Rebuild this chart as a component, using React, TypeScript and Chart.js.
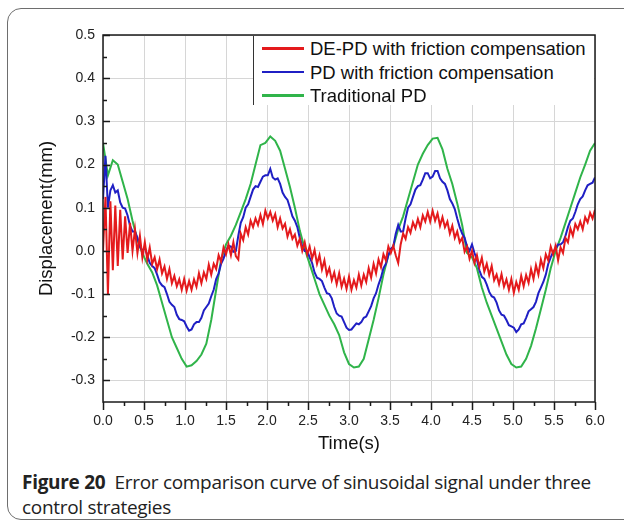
import React, { useEffect, useRef } from "react";
import { Chart, registerables } from "chart.js";

Chart.register(...registerables);

// ---- data ----
const seriesNames = [
  "DE-PD with friction compensation",
  "PD with friction compensation",
  "Traditional PD",
];
const seriesColors = ["#e41a1c", "#1f1fc4", "#30b44a"];

const FINE_STEP = 0.03; // s between samples of the DE-PD and PD traces
const COARSE_STEP = 0.06; // s between samples of the traditional PD trace

const dePdValues = [
  0.0, 0.125, -0.1, 0.115, -0.045, 0.105, -0.035, 0.095, -0.02, 0.08,
  -0.005, 0.065, 0.0, 0.05, -0.005, 0.035, -0.015, 0.02, -0.02, 0.008,
  -0.03, -0.015, -0.042, -0.02, -0.052, -0.036, -0.065, -0.042, -0.075, -0.058,
  -0.082, -0.066, -0.09, -0.065, -0.092, -0.07, -0.09, -0.066, -0.083, -0.052,
  -0.075, -0.05, -0.065, -0.032, -0.055, -0.03, -0.042, -0.01, -0.025, 0.008,
  -0.008, 0.015, -0.01, 0.02, -0.012, -0.02, 0.04, 0.025, 0.055, 0.038,
  0.07, 0.055, 0.075, 0.06, 0.083, 0.062, 0.093, 0.075, 0.09, 0.07,
  0.085, 0.055, 0.075, 0.052, 0.063, 0.033, 0.05, 0.028, 0.038, 0.012,
  0.028, 0.0, 0.02, -0.008, 0.01, -0.018, 0.002, -0.03, -0.01, -0.043,
  -0.022, -0.055, -0.04, -0.068, -0.05, -0.077, -0.052, -0.083, -0.064, -0.088,
  -0.06, -0.09, -0.068, -0.085, -0.055, -0.08, -0.055, -0.072, -0.04, -0.062,
  -0.03, -0.052, -0.02, -0.038, -0.008, -0.022, 0.01, -0.005, 0.012, -0.01,
  -0.028, 0.015, 0.04, 0.028, 0.055, 0.042, 0.066, 0.052, 0.074, 0.055,
  0.082, 0.068, 0.09, 0.068, 0.093, 0.07, 0.087, 0.058, 0.078, 0.055,
  0.068, 0.04, 0.058, 0.03, 0.045, 0.02, 0.03, -0.002, 0.01, -0.018,
  0.0, -0.028, -0.01, -0.037, -0.016, -0.048, -0.03, -0.056, -0.035, -0.068,
  -0.055, -0.077, -0.054, -0.083, -0.066, -0.09, -0.065, -0.097, -0.072, -0.09,
  -0.058, -0.082, -0.056, -0.074, -0.042, -0.065, -0.033, -0.055, -0.02, -0.04,
  -0.008, -0.022, 0.01, -0.008, 0.012, -0.022, 0.008, -0.005, 0.03, 0.02,
  0.052, 0.035, 0.062, 0.05, 0.068, 0.05, 0.078, 0.066, 0.088, 0.075,
  0.095,
];

const pdFrictionValues = [
  0.12, 0.22, 0.1, 0.14, 0.152, 0.135, 0.14, 0.112, 0.1, 0.098,
  0.082, 0.058, 0.045, 0.045, 0.03, 0.01, 0.0, 0.008, -0.01, -0.028,
  -0.035, -0.04, -0.055, -0.072, -0.08, -0.084, -0.1, -0.118, -0.125, -0.13,
  -0.148, -0.158, -0.16, -0.163, -0.175, -0.185, -0.182, -0.17, -0.165, -0.165,
  -0.155, -0.138, -0.13, -0.122, -0.105, -0.09, -0.065, -0.052, -0.03, -0.018,
  0.0, 0.012, 0.01, -0.002, 0.0, 0.035, 0.065, 0.078, 0.1, 0.108,
  0.125, 0.142, 0.15, 0.148, 0.16, 0.172, 0.175, 0.175, 0.19, 0.17,
  0.165, 0.168, 0.155, 0.135, 0.125, 0.118, 0.1, 0.08, 0.07, 0.055,
  0.03, 0.01, 0.0, 0.0, -0.015, -0.028, -0.05, -0.062, -0.065, -0.07,
  -0.085, -0.098, -0.1, -0.11, -0.13, -0.145, -0.15, -0.152, -0.165, -0.178,
  -0.183, -0.182, -0.175, -0.168, -0.17, -0.165, -0.155, -0.152, -0.14, -0.128,
  -0.11, -0.098, -0.078, -0.062, -0.04, -0.03, -0.01, 0.005, 0.01, 0.04,
  0.06, 0.045, 0.045, 0.075, 0.1, 0.108, 0.125, 0.142, 0.15, 0.152,
  0.165, 0.18, 0.18, 0.168, 0.172, 0.185, 0.185, 0.168, 0.16, 0.155,
  0.14, 0.12, 0.11, 0.097, 0.075, 0.055, 0.04, 0.03, 0.01, 0.0,
  0.015, -0.005, -0.02, -0.045, -0.06, -0.065, -0.078, -0.095, -0.105, -0.108,
  -0.12, -0.138, -0.148, -0.15, -0.16, -0.172, -0.175, -0.178, -0.188, -0.182,
  -0.17, -0.168, -0.155, -0.14, -0.135, -0.13, -0.118, -0.098, -0.085, -0.072,
  -0.055, -0.03, -0.015, -0.002, 0.005, 0.015, 0.015, 0.02, 0.035, 0.055,
  0.07, 0.075, 0.09, 0.108, 0.12, 0.126, 0.14, 0.152, 0.155, 0.158,
  0.17,
];

const traditionalValues = [
  0.25, 0.175, 0.21, 0.2, 0.16, 0.12, 0.07, 0.025, -0.005, -0.03,
  -0.05, -0.08, -0.12, -0.16, -0.2, -0.225, -0.25, -0.268, -0.265, -0.255,
  -0.24, -0.215, -0.16, -0.09, -0.02, 0.015, 0.035, 0.06, 0.09, 0.12,
  0.155, 0.2, 0.245, 0.25, 0.265, 0.255, 0.232, 0.19, 0.148, 0.1,
  0.047, 0.005, -0.03, -0.065, -0.1, -0.125, -0.15, -0.17, -0.195, -0.235,
  -0.262, -0.27, -0.268, -0.25, -0.205, -0.16, -0.11, -0.055, -0.01, 0.01,
  0.05, 0.08, 0.12, 0.16, 0.2, 0.225, 0.245, 0.26, 0.262, 0.235,
  0.19, 0.155, 0.11, 0.06, -0.005, -0.015, -0.04, -0.085, -0.12, -0.15,
  -0.18, -0.21, -0.24, -0.262, -0.27, -0.268, -0.25, -0.22, -0.18, -0.135,
  -0.09, -0.04, 0.0, 0.03, 0.065, 0.1, 0.135, 0.17, 0.2, 0.232,
  0.25,
];

const xTickValues = [0, 0.5, 1, 1.5, 2, 2.5, 3, 3.5, 4, 4.5, 5, 5.5, 6];
const xMinorTicks = [0.25, 0.75, 1.25, 1.75, 2.25, 2.75, 3.25, 3.75, 4.25, 4.75, 5.25, 5.75];
const yTickValues = [-0.3, -0.2, -0.1, 0, 0.1, 0.2, 0.3, 0.4, 0.5];
const yMinorTicks = [-0.25, -0.15, -0.05, 0.05, 0.15, 0.25, 0.35, 0.45];

const X_MIN = 0;
const X_MAX = 6;
const Y_MIN = -0.35;
const Y_MAX = 0.5;

const xTitle = "Time(s)";
const yTitle = "Displacement(mm)";

const toPoints = (vals: number[], step: number) =>
  vals.map((y, i) => ({ x: +(i * step).toFixed(3), y }));

const frameTicksPlugin = {
  id: "frameTicks",
  afterDatasetsDraw(chart: any) {
    const { ctx, chartArea, scales } = chart;
    const { left, right, top, bottom } = chartArea;
    const x = scales.x;
    const y = scales.y;
    ctx.save();
    ctx.strokeStyle = "#1a1a1a";
    ctx.lineWidth = 1.5;
    ctx.beginPath();
    for (const v of yTickValues) {
      const py = Math.round(y.getPixelForValue(v)) + 0.5;
      ctx.moveTo(left, py);
      ctx.lineTo(left + 7, py);
    }
    for (const v of yMinorTicks) {
      const py = Math.round(y.getPixelForValue(v)) + 0.5;
      ctx.moveTo(left, py);
      ctx.lineTo(left + 4, py);
    }
    for (const v of xTickValues) {
      const px = Math.round(x.getPixelForValue(v)) + 0.5;
      ctx.moveTo(px, bottom);
      ctx.lineTo(px, bottom + 8);
    }
    for (const v of xMinorTicks) {
      const px = Math.round(x.getPixelForValue(v)) + 0.5;
      ctx.moveTo(px, bottom);
      ctx.lineTo(px, bottom + 4);
    }
    ctx.stroke();
    ctx.strokeRect(left, top, right - left, bottom - top);
    ctx.restore();
  },
};

export default function App() {
  const canvasRef = useRef<HTMLCanvasElement | null>(null);

  useEffect(() => {
    const canvas = canvasRef.current;
    if (!canvas) return;
    const valueSets = [
      toPoints(dePdValues, FINE_STEP),
      toPoints(pdFrictionValues, FINE_STEP),
      toPoints(traditionalValues, COARSE_STEP),
    ];
    const chart = new Chart(canvas, {
      type: "line",
      data: {
        datasets: seriesNames.map((name, i) => ({
          label: name,
          data: valueSets[i],
          borderColor: seriesColors[i],
          backgroundColor: seriesColors[i],
          borderWidth: 2,
          pointRadius: 0,
          tension: 0,
          fill: false,
        })),
      },
      options: {
        responsive: false,
        maintainAspectRatio: false,
        animation: false,
        layout: { padding: { left: 0, top: 35, right: 29, bottom: 0 } },
        plugins: {
          legend: { display: false },
          tooltip: { enabled: false },
        },
        scales: {
          x: {
            type: "linear",
            min: X_MIN,
            max: X_MAX,
            afterBuildTicks: (s: any) => {
              s.ticks = xTickValues.map((v) => ({ value: v }));
            },
            afterFit: (s: any) => {
              s.height = 58;
            },
            ticks: {
              autoSkip: false,
              maxRotation: 0,
              padding: 11,
              color: "#222",
              font: { family: "'Liberation Sans', Arial, sans-serif", size: 14 },
              callback: (v: any) => Number(v).toFixed(1),
            },
            grid: { color: "#d6d6d6", lineWidth: 1, drawTicks: false },
            border: { display: false },
            title: {
              display: true,
              text: xTitle,
              color: "#111",
              font: { family: "'Liberation Sans', Arial, sans-serif", size: 18.5 },
              padding: { top: 0, bottom: 5 },
            },
          },
          y: {
            type: "linear",
            min: Y_MIN,
            max: Y_MAX,
            afterBuildTicks: (s: any) => {
              s.ticks = yTickValues.map((v) => ({ value: v }));
            },
            afterFit: (s: any) => {
              s.width = 103;
            },
            ticks: {
              autoSkip: false,
              padding: 8,
              color: "#222",
              font: { family: "'Liberation Sans', Arial, sans-serif", size: 14 },
              callback: (v: any) => Number(v).toFixed(1),
            },
            grid: { color: "#d6d6d6", lineWidth: 1, drawTicks: false },
            border: { display: false },
            title: {
              display: true,
              text: yTitle,
              color: "#111",
              font: { family: "'Liberation Sans', Arial, sans-serif", size: 18.5 },
              padding: { top: 36, bottom: 0 },
            },
          },
        },
      },
      plugins: [frameTicksPlugin],
    } as any);
    return () => chart.destroy();
  }, []);

  const rowTops = [37, 60.5, 84];

  return (
    <div
      style={{
        position: "fixed",
        left: 0,
        top: 0,
        width: 624,
        height: 523,
        overflow: "hidden",
        background: "#fff",
      }}
    >
      <div
        style={{
          position: "absolute",
          left: 7,
          top: 8,
          width: 700,
          height: 512,
          border: "1.5px solid #6e6e6e",
          borderRadius: 14,
          boxSizing: "border-box",
        }}
      />
      <canvas
        ref={canvasRef}
        width={624}
        height={460}
        style={{ position: "absolute", left: 0, top: 0, width: 624, height: 460 }}
      />
      <div
        style={{
          position: "absolute",
          left: 253,
          top: 36,
          width: 341,
          height: 69,
          background: "#fff",
          borderLeft: "1.5px solid #333",
          boxSizing: "border-box",
        }}
      >
        {seriesNames.map((name, i) => (
          <div
            key={name}
            style={{
              position: "absolute",
              left: 0,
              top: rowTops[i] - 36,
              height: 23,
              width: 341,
            }}
          >
            <div
              style={{
                position: "absolute",
                left: 8,
                top: 10,
                width: 42,
                height: 2.5,
                background: seriesColors[i],
              }}
            />
            <div
              style={{
                position: "absolute",
                left: 56,
                top: 0,
                fontFamily: "'Liberation Sans', Arial, sans-serif",
                fontSize: 18.5,
                lineHeight: "23px",
                color: "#111",
                whiteSpace: "nowrap",
              }}
            >
              {name}
            </div>
          </div>
        ))}
      </div>
      <div
        style={{
          position: "absolute",
          left: 22,
          top: 470,
          width: 610,
          fontFamily: "'Open Sans', 'Noto Sans', sans-serif",
          fontSize: 19,
          lineHeight: "25px",
          color: "#222",
          letterSpacing: -0.3,
          whiteSpace: "nowrap",
        }}
      >
        <span style={{ fontWeight: 700 }}>Figure 20</span>
        {"\u2002Error comparison curve of sinusoidal signal under three"}
        <br />
        control strategies
      </div>
    </div>
  );
}
